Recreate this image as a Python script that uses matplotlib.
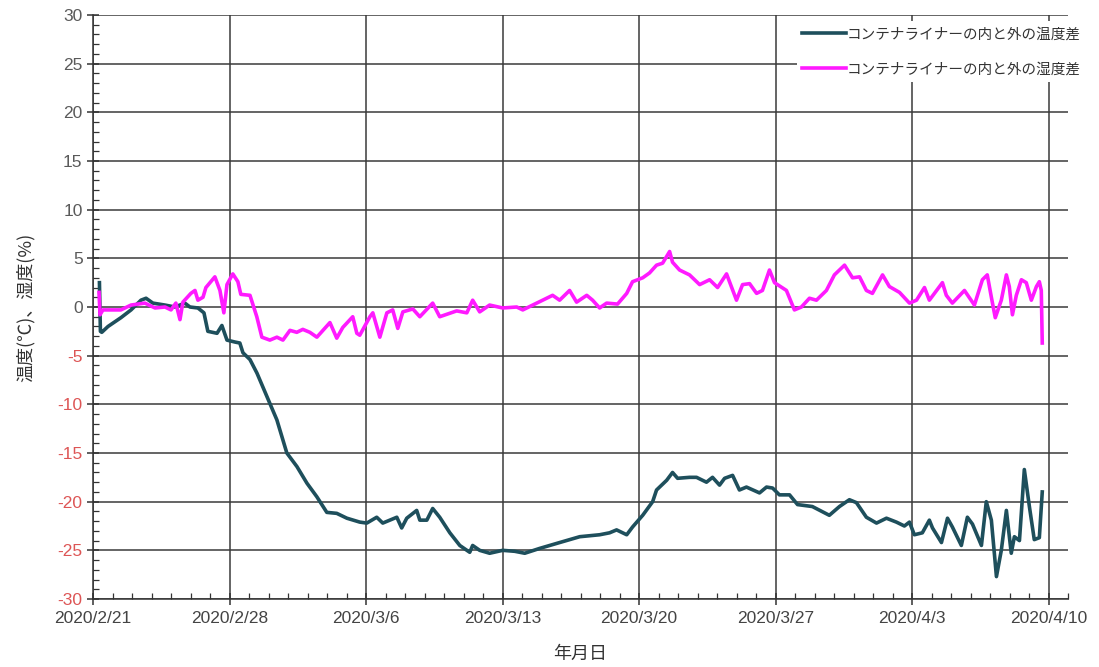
import matplotlib
matplotlib.use("Agg")
import matplotlib.pyplot as plt
import matplotlib.dates as mdates
from matplotlib.ticker import MultipleLocator, FuncFormatter
import pandas as pd

plt.rcParams['font.family'] = ['Noto Sans CJK JP', 'DejaVu Sans']

start = pd.Timestamp("2020-02-21")

# Temperature difference (inside minus outside), elapsed days from 2020/2/21
temp_days = [0.33, 0.38, 0.45, 0.77, 1.43, 1.95, 2.46, 2.72, 3.07, 3.69, 4.20, 4.71, 4.97,
             5.38, 5.69, 5.89, 6.36, 6.61, 6.87, 7.28, 7.53, 7.69, 8.05, 8.41, 8.92, 9.43,
             9.94, 10.46, 10.97, 11.48, 11.99, 12.50, 13.02, 13.68, 14.04, 14.55, 14.86,
             15.58, 15.83, 16.09, 16.60, 16.76, 17.12, 17.42, 17.78, 18.30, 18.81, 19.32,
             19.47, 19.83, 20.34, 21.01, 21.63, 22.14, 22.91, 23.93, 24.96, 25.98, 26.49,
             26.85, 27.37, 27.67, 28.19, 28.70, 28.90, 29.42, 29.72, 29.98, 30.59, 30.95,
             31.46, 31.77, 32.13, 32.39, 32.80, 33.15, 33.51, 34.18, 34.54, 34.85, 35.20,
             35.72, 36.13, 36.89, 37.76, 38.28, 38.79, 39.15, 39.66, 40.18, 40.69, 41.20,
             41.61, 41.87, 42.12, 42.53, 42.89, 43.05, 43.51, 43.82, 44.07, 44.53, 44.84,
             45.10, 45.56, 45.81, 46.07, 46.33, 46.58, 46.84, 47.09, 47.25, 47.51, 47.76,
             48.02, 48.27, 48.53, 48.68]
temp_diff = [2.5, -2.5, -2.6, -2.0, -1.1, -0.3, 0.7, 0.9, 0.4, 0.2, 0.0, 0.4, 0.0,
             -0.1, -0.6, -2.5, -2.7, -1.9, -3.4, -3.6, -3.7, -4.7, -5.4, -6.8, -9.2, -11.6,
             -15.0, -16.4, -18.1, -19.5, -21.1, -21.2, -21.7, -22.1, -22.2, -21.6, -22.2,
             -21.6, -22.7, -21.7, -20.9, -21.9, -21.9, -20.7, -21.6, -23.2, -24.5, -25.2,
             -24.5, -25.0, -25.3, -25.0, -25.1, -25.3, -24.8, -24.2, -23.6, -23.4, -23.2,
             -22.9, -23.4, -22.6, -21.4, -20.0, -18.8, -17.8, -17.0, -17.6, -17.5, -17.5,
             -18.0, -17.5, -18.3, -17.6, -17.3, -18.8, -18.5, -19.1, -18.5, -18.6, -19.3,
             -19.3, -20.3, -20.5, -21.4, -20.5, -19.8, -20.1, -21.6, -22.2, -21.7, -22.1,
             -22.5, -22.1, -23.4, -23.2, -21.9, -22.7, -24.2, -21.7, -22.6, -24.5, -21.6,
             -22.3, -24.5, -20.0, -21.9, -27.7, -25.0, -20.9, -25.3, -23.6, -24.0, -16.7,
             -20.5, -23.9, -23.7, -19.0]

# Humidity difference (inside minus outside), elapsed days from 2020/2/21
hum_days = [0.31, 0.36, 0.51, 1.43, 1.95, 2.66, 3.18, 3.69, 4.00, 4.25, 4.46, 4.61, 5.02,
            5.23, 5.38, 5.64, 5.79, 6.25, 6.51, 6.71, 6.87, 7.17, 7.43, 7.58, 8.05, 8.40,
            8.66, 9.07, 9.43, 9.74, 10.10, 10.45, 10.76, 11.12, 11.48, 11.79, 12.15, 12.50,
            12.81, 13.32, 13.53, 13.68, 14.20, 14.35, 14.71, 15.07, 15.37, 15.63, 15.89,
            16.40, 16.76, 17.42, 17.78, 18.65, 19.17, 19.47, 19.83, 20.34, 21.01, 21.73,
            22.04, 22.55, 23.27, 23.57, 23.93, 24.44, 24.80, 25.32, 25.62, 25.98, 26.34,
            26.90, 27.37, 27.67, 28.19, 28.54, 28.90, 29.21, 29.57, 29.72, 30.08, 30.59,
            31.11, 31.62, 32.03, 32.49, 33.00, 33.31, 33.67, 34.03, 34.33, 34.69, 34.95,
            35.56, 35.97, 36.33, 36.74, 37.10, 37.61, 38.02, 38.54, 38.95, 39.31, 39.66,
            39.97, 40.49, 40.84, 41.36, 41.87, 42.23, 42.64, 42.89, 43.56, 43.76, 44.07,
            44.69, 45.20, 45.61, 45.86, 46.07, 46.27, 46.58, 46.84, 46.99, 47.15, 47.35,
            47.61, 47.86, 48.12, 48.38, 48.53, 48.63, 48.68]
hum_diff = [1.5, -0.8, -0.3, -0.3, 0.2, 0.4, -0.1, 0.0, -0.3, 0.4, -1.3, 0.5, 1.4,
            1.7, 0.7, 1.0, 2.0, 3.1, 1.7, -0.6, 2.3, 3.4, 2.6, 1.3, 1.2, -1.0,
            -3.1, -3.4, -3.1, -3.4, -2.4, -2.6, -2.3, -2.6, -3.1, -2.4, -1.6, -3.2,
            -2.1, -1.0, -2.7, -2.9, -1.0, -0.6, -3.1, -0.6, -0.3, -2.2, -0.5,
            -0.2, -1.0, 0.4, -1.0, -0.4, -0.6, 0.7, -0.5, 0.2, -0.1, 0.0,
            -0.3, 0.2, 0.9, 1.2, 0.7, 1.7, 0.5, 1.2, 0.7, -0.1, 0.4,
            0.3, 1.4, 2.6, 3.0, 3.5, 4.3, 4.5, 5.7, 4.6, 3.8, 3.3,
            2.3, 2.8, 2.0, 3.4, 0.7, 2.3, 2.4, 1.4, 1.7, 3.8, 2.5,
            1.7, -0.3, 0.0, 0.9, 0.7, 1.7, 3.3, 4.3, 3.0, 3.1, 1.7,
            1.4, 3.3, 2.1, 1.5, 0.4, 0.7, 2.0, 0.7, 2.5, 1.2, 0.4,
            1.7, 0.2, 2.8, 3.3, 1.0, -1.1, 0.7, 3.3, 2.1, -0.8, 1.2,
            2.8, 2.5, 0.7, 2.1, 2.6, 1.7, -3.7]

series_labels = ["コンテナライナーの内と外の温度差", "コンテナライナーの内と外の湿度差"]
series_colors = ["#1e4f5c", "#ff1aff"]

temp_t = start + pd.to_timedelta(temp_days, unit="D")
hum_t = start + pd.to_timedelta(hum_days, unit="D")

fig = plt.figure(figsize=(10.99, 6.67), dpi=100)
ax = fig.add_axes([93 / 1099, 1 - 599 / 667, (1068 - 93) / 1099, (599 - 15) / 667])

ax.plot(temp_t, temp_diff, color=series_colors[0], lw=2.6, label=series_labels[0],
        zorder=3, solid_joinstyle="round")
ax.plot(hum_t, hum_diff, color=series_colors[1], lw=2.6, label=series_labels[1],
        zorder=3, solid_joinstyle="round")

ax.set_xlim(start, start + pd.Timedelta(days=50))
ax.set_ylim(-30, 30)

major_dates = [start + pd.Timedelta(days=7 * i) for i in range(8)]
ax.set_xticks(major_dates)
ax.set_xticklabels([f"{d.year}/{d.month}/{d.day}" for d in major_dates])
ax.xaxis.set_minor_locator(mdates.DayLocator())
ax.yaxis.set_major_locator(MultipleLocator(5))
ax.yaxis.set_minor_locator(MultipleLocator(1))

ax.grid(True, which="major", color="#3a3a3a", lw=1.1, zorder=1)
for s in ["top", "right"]:
    ax.spines[s].set_visible(False)
for s in ["left", "bottom"]:
    ax.spines[s].set_color("#333333")
    ax.spines[s].set_linewidth(1.1)

ax.tick_params(which="major", direction="inout", length=9, width=1.1, color="#333333")
ax.tick_params(which="minor", direction="in", length=4, width=0.9, color="#333333")
ax.tick_params(axis="x", labelcolor="#444444", pad=4)
ax.tick_params(axis="y", pad=3)

ax.yaxis.set_major_formatter(FuncFormatter(lambda v, p: f"{int(v)}"))
fig.canvas.draw()
for lbl in ax.get_xticklabels():
    lbl.set_fontfamily(["Liberation Sans", "DejaVu Sans"])
    lbl.set_fontsize(12.5)
for lbl in ax.get_yticklabels():
    lbl.set_fontfamily(["Liberation Sans", "DejaVu Sans"])
    lbl.set_fontsize(12.5)
    txt = lbl.get_text().replace("\u2212", "-")
    try:
        val = float(txt)
    except ValueError:
        continue
    lbl.set_color("#dd5555" if val < 0 else "#5a5a5a")

ax.set_ylabel("温度(℃)、湿度(%)", fontsize=13, color="#333333", labelpad=16)
ax.set_xlabel("年月日", fontsize=13, color="#333333", labelpad=14)

leg = fig.legend(loc="upper right", bbox_to_anchor=(1094 / 1099, 1 - 14 / 667),
                 frameon=True, fancybox=False, edgecolor="none", facecolor="white",
                 framealpha=1.0, fontsize=10.5, handlelength=3.0, handletextpad=0.05,
                 labelspacing=1.45, borderpad=0.4)
for t in leg.get_texts():
    t.set_color("#333333")

fig.savefig("out.png", dpi=100)
